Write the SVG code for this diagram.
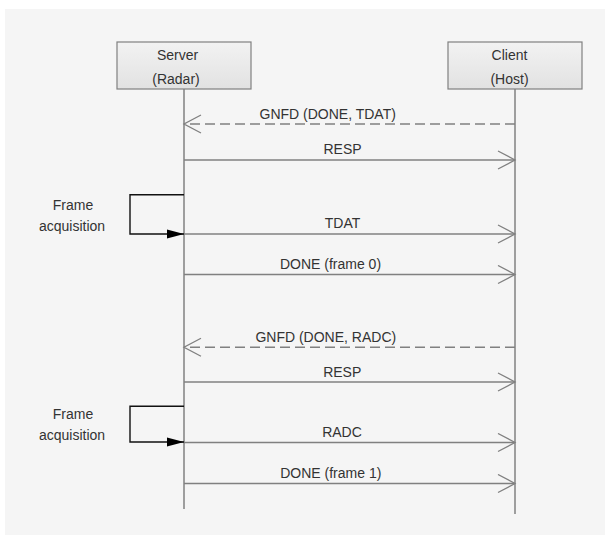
<svg xmlns="http://www.w3.org/2000/svg" width="605" height="535" viewBox="0 0 605 535">
<defs>
<linearGradient id="boxg" x1="0" y1="0" x2="0" y2="1">
<stop offset="0" stop-color="#f2f2f2"/>
<stop offset="1" stop-color="#e2e2e2"/>
</linearGradient>
<marker id="open" viewBox="0 0 20 20" refX="18" refY="10" markerWidth="20" markerHeight="20" markerUnits="userSpaceOnUse" orient="auto">
<path d="M1,1 L18,10 L1,19" fill="none" stroke="#808080" stroke-width="1.3"/>
</marker>
<marker id="solid" viewBox="0 0 18 12" refX="17" refY="6" markerWidth="18" markerHeight="12" markerUnits="userSpaceOnUse" orient="auto">
<path d="M0,1.5 L17,6 L0,10.5 Z" fill="#000"/>
</marker>
</defs>
<style>
text{font-family:"Liberation Sans",Arial,sans-serif;font-size:14px;fill:#333;}
.lbl{text-anchor:middle;}
.box{fill:url(#boxg);stroke:#808080;stroke-width:1.2;}
.life{stroke:#808080;stroke-width:1.5;fill:none;}
.msg{stroke:#808080;stroke-width:1.5;fill:none;marker-end:url(#open);}
.dash{stroke-dasharray:10 5;}
.loop{stroke:#111;stroke-width:1.4;fill:none;marker-end:url(#solid);}
</style>
<rect x="5" y="9" width="600" height="526" fill="#f5f5f5"/>
<g id="server">
<rect class="box" x="117" y="42" width="134" height="47"/>
<text class="lbl" x="177.5" y="60">Server</text>
<text class="lbl" x="176" y="84">(Radar)</text>
<line class="life" x1="184" y1="89" x2="184" y2="509"/>
</g>
<g id="client">
<rect class="box" x="448" y="42" width="134" height="47"/>
<text class="lbl" x="509.5" y="60">Client</text>
<text class="lbl" x="509.5" y="84">(Host)</text>
<line class="life" x1="515" y1="89" x2="515" y2="514"/>
</g>
<g id="connectors">
<line class="msg dash" x1="515" y1="124" x2="184" y2="124"/>
<text class="lbl" x="327.7" y="118.5">GNFD (DONE, TDAT)</text>
<line class="msg" x1="184" y1="160" x2="515" y2="160"/>
<text class="lbl" x="342.5" y="153.5">RESP</text>
<path class="loop" d="M184,194.7 H130 V234 H184"/>
<text class="lbl" x="73" y="209.5">Frame</text>
<text class="lbl" x="72" y="230.5">acquisition</text>
<line class="msg" x1="184" y1="234" x2="515" y2="234"/>
<text class="lbl" x="342.5" y="227.5">TDAT</text>
<line class="msg" x1="184" y1="274.5" x2="515" y2="274.5"/>
<text class="lbl" x="330.5" y="268.5">DONE (frame 0)</text>
<line class="msg dash" x1="515" y1="347.3" x2="184" y2="347.3"/>
<text class="lbl" x="325.8" y="342">GNFD (DONE, RADC)</text>
<line class="msg" x1="184" y1="382" x2="515" y2="382"/>
<text class="lbl" x="342.2" y="376.7">RESP</text>
<path class="loop" d="M184,406.3 H130 V442 H184"/>
<text class="lbl" x="73" y="418.5">Frame</text>
<text class="lbl" x="72" y="439.5">acquisition</text>
<line class="msg" x1="184" y1="442.5" x2="515" y2="442.5"/>
<text class="lbl" x="342" y="436.7">RADC</text>
<line class="msg" x1="184" y1="483.5" x2="515" y2="483.5"/>
<text class="lbl" x="330.8" y="478">DONE (frame 1)</text>
</g>
</svg>
